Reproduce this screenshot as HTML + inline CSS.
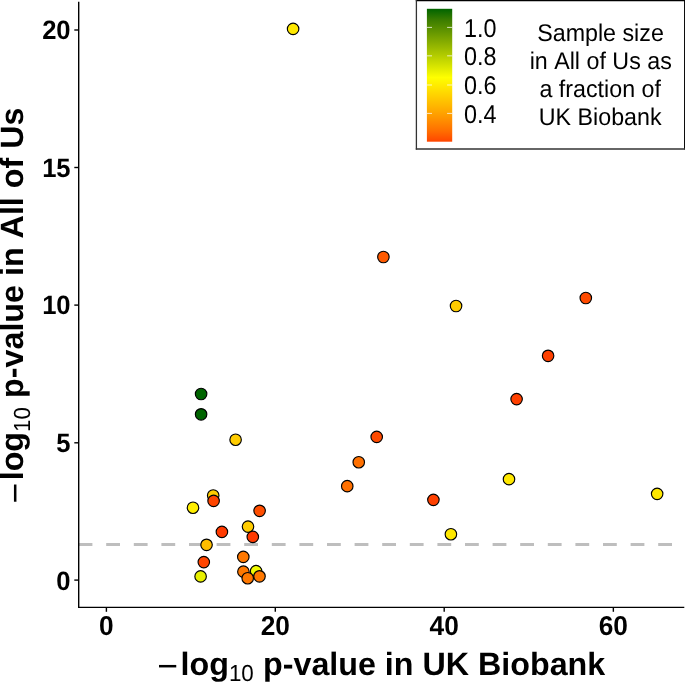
<!DOCTYPE html>
<html>
<head>
<meta charset="utf-8">
<title>p-value comparison</title>
<style>
html,body{margin:0;padding:0;background:#fff;}
svg{display:block;will-change:transform;}
text{font-family:"Liberation Sans",Arial,Helvetica,sans-serif;fill:#000;text-rendering:geometricPrecision;font-kerning:none;}
.b{font-weight:bold;}
</style>
</head>
<body>
<svg width="685" height="682" viewBox="0 0 685 682">
<rect x="0" y="0" width="685" height="682" fill="#ffffff"/>

<!-- significance threshold -->
<line x1="78.6" y1="544.45" x2="685" y2="544.45" stroke="#bebebe" stroke-width="3" stroke-dasharray="13.8 13.8"/>

<!-- points -->
<g stroke="#000" stroke-width="1.15">
<circle cx="293.1" cy="28.9" r="5.75" fill="#ffe800"/>
<circle cx="201.1" cy="394.0" r="5.75" fill="#006400"/>
<circle cx="201.1" cy="414.3" r="5.75" fill="#006400"/>
<circle cx="235.6" cy="439.7" r="5.75" fill="#ffcc00"/>
<circle cx="383.4" cy="257.0" r="5.75" fill="#ff5a00"/>
<circle cx="456.05" cy="306.0" r="5.75" fill="#ffcc00"/>
<circle cx="585.8" cy="298.0" r="5.75" fill="#ff4a00"/>
<circle cx="548.1" cy="355.8" r="5.75" fill="#ff4000"/>
<circle cx="516.6" cy="399.1" r="5.75" fill="#ff4000"/>
<circle cx="376.7" cy="436.9" r="5.75" fill="#ff4a00"/>
<circle cx="358.75" cy="462.2" r="5.75" fill="#ff7000"/>
<circle cx="347.25" cy="486.15" r="5.75" fill="#ff7000"/>
<circle cx="433.4" cy="499.85" r="5.75" fill="#ff4000"/>
<circle cx="450.9" cy="534.2" r="5.75" fill="#ffe800"/>
<circle cx="509.0" cy="479.15" r="5.75" fill="#ffe800"/>
<circle cx="657.15" cy="493.85" r="5.75" fill="#ffe800"/>
<circle cx="193.0" cy="507.7" r="5.75" fill="#ffee00"/>
<circle cx="213.2" cy="495.5" r="5.75" fill="#ffcc00"/>
<circle cx="213.6" cy="500.9" r="5.75" fill="#ff4500"/>
<circle cx="259.6" cy="510.8" r="5.75" fill="#ff4e00"/>
<circle cx="248.0" cy="526.6" r="5.75" fill="#ffcc00"/>
<circle cx="252.8" cy="536.9" r="5.75" fill="#ff3a00"/>
<circle cx="221.9" cy="531.9" r="5.75" fill="#ff3a00"/>
<circle cx="206.55" cy="544.8" r="5.75" fill="#ffbd00"/>
<circle cx="203.8" cy="562.1" r="5.75" fill="#ff4500"/>
<circle cx="200.6" cy="576.4" r="5.75" fill="#e8f000"/>
<circle cx="243.3" cy="556.9" r="5.75" fill="#ff7800"/>
<circle cx="243.4" cy="571.65" r="5.75" fill="#ff7800"/>
<circle cx="256.1" cy="571.1" r="5.75" fill="#f0fa00"/>
<circle cx="247.7" cy="578.2" r="5.75" fill="#ff7800"/>
<circle cx="259.5" cy="576.3" r="5.75" fill="#ff7800"/>
</g>

<!-- axes -->
<g stroke="#000" stroke-width="1.4" fill="none">
<line x1="78.7" y1="1.8" x2="78.7" y2="608.1"/>
<line x1="78" y1="607.4" x2="684.3" y2="607.4"/>
<line x1="74.3" y1="30.0" x2="78.7" y2="30.0"/>
<line x1="74.3" y1="167.5" x2="78.7" y2="167.5"/>
<line x1="74.3" y1="305.1" x2="78.7" y2="305.1"/>
<line x1="74.3" y1="442.8" x2="78.7" y2="442.8"/>
<line x1="74.3" y1="580.1" x2="78.7" y2="580.1"/>
<line x1="106.4" y1="607.4" x2="106.4" y2="611.8"/>
<line x1="275.3" y1="607.4" x2="275.3" y2="611.8"/>
<line x1="444.2" y1="607.4" x2="444.2" y2="611.8"/>
<line x1="613.35" y1="607.4" x2="613.35" y2="611.8"/>
</g>

<!-- y tick labels -->
<text transform="translate(70.6,38.8) scale(1,1.04)" font-size="25.6" text-anchor="end" class="b">20</text>
<text transform="translate(70.6,177.3) scale(1,1.04)" font-size="25.6" text-anchor="end" class="b">15</text>
<text transform="translate(70.6,314.45) scale(1,1.04)" font-size="25.6" text-anchor="end" class="b">10</text>
<text transform="translate(70.6,452.2) scale(1,1.04)" font-size="25.6" text-anchor="end" class="b">5</text>
<text transform="translate(70.6,590.0) scale(1,1.04)" font-size="25.6" text-anchor="end" class="b">0</text>
<!-- x tick labels -->
<text transform="translate(106.4,634.9) scale(1,1.04)" font-size="26.3" text-anchor="middle" class="b">0</text>
<text transform="translate(275.3,634.9) scale(1,1.04)" font-size="26.3" text-anchor="middle" class="b">20</text>
<text transform="translate(444.2,634.9) scale(1,1.04)" font-size="26.3" text-anchor="middle" class="b">40</text>
<text transform="translate(613.3,634.9) scale(1,1.04)" font-size="26.3" text-anchor="middle" class="b">60</text>

<!-- x title -->
<g font-size="32.25">
<text transform="translate(157.3,678.3)" font-size="35.5" font-family="Liberation Serif,serif">−</text>
<text transform="translate(180.6,674.5)" class="b">log</text>
<text transform="translate(228.9,681.0) scale(1,1.04)" font-size="22.4">10</text>
<text transform="translate(263.0,674.5)" class="b">p-value in UK Biobank</text>
</g>

<!-- y title -->
<g transform="translate(23.0,503.6) rotate(-90)" font-size="32.25">
<text transform="translate(0,3.5)" font-size="35.5" font-family="Liberation Serif,serif">−</text>
<text transform="translate(23.3,0)" class="b">log</text>
<text transform="translate(71.6,7.0) scale(1,1.04)" font-size="22.4">10</text>
<text transform="translate(105.7,0)" class="b">p-value in All of Us</text>
</g>

<!-- legend -->
<defs>
<linearGradient id="cb" x1="0" y1="0" x2="0" y2="1">
<stop offset="0.0000" stop-color="#006400"/>
<stop offset="0.0862" stop-color="#3c7d00"/>
<stop offset="0.1723" stop-color="#639600"/>
<stop offset="0.2585" stop-color="#8aaf00"/>
<stop offset="0.3447" stop-color="#b0ca00"/>
<stop offset="0.4308" stop-color="#d7e400"/>
<stop offset="0.5170" stop-color="#ffff00"/>
<stop offset="0.5975" stop-color="#ffe400"/>
<stop offset="0.6780" stop-color="#ffc800"/>
<stop offset="0.7585" stop-color="#ffac00"/>
<stop offset="0.8390" stop-color="#ff8e00"/>
<stop offset="0.9195" stop-color="#ff6e00"/>
<stop offset="1.0000" stop-color="#ff4500"/>
</linearGradient>
</defs>
<rect x="416.4" y="0.5" width="268.3" height="148.5" fill="#ffffff"/>
<line x1="415.8" y1="0.5" x2="685" y2="0.5" stroke="#000" stroke-width="1.3"/>
<line x1="684.7" y1="0" x2="684.7" y2="149.6" stroke="#000" stroke-width="1.3"/>
<line x1="415.8" y1="149.0" x2="685" y2="149.0" stroke="#333" stroke-width="1.3"/>
<line x1="416.4" y1="0" x2="416.4" y2="149.6" stroke="#333" stroke-width="1.3"/>
<rect x="426.9" y="8.8" width="25.3" height="132.9" fill="url(#cb)"/>
<g stroke="#ffffff" stroke-opacity="0.75" stroke-width="1">
<line x1="426.9" y1="27.4" x2="432" y2="27.4"/><line x1="447.1" y1="27.4" x2="452.2" y2="27.4"/>
<line x1="426.9" y1="55.85" x2="432" y2="55.85"/><line x1="447.1" y1="55.85" x2="452.2" y2="55.85"/>
<line x1="426.9" y1="85.0" x2="432" y2="85.0"/><line x1="447.1" y1="85.0" x2="452.2" y2="85.0"/>
<line x1="426.9" y1="113.4" x2="432" y2="113.4"/><line x1="447.1" y1="113.4" x2="452.2" y2="113.4"/>
</g>
<text transform="translate(463.9,36.6) scale(1,1.1)" font-size="23.4">1.0</text>
<text transform="translate(463.9,65.4) scale(1,1.1)" font-size="23.4">0.8</text>
<text transform="translate(463.9,94.3) scale(1,1.1)" font-size="23.4">0.6</text>
<text transform="translate(463.9,122.7) scale(1,1.1)" font-size="23.4">0.4</text>
<text transform="translate(600.5,41.1) scale(1,1.04)" font-size="23.25" text-anchor="middle">Sample size</text>
<text transform="translate(600.7,68.9) scale(1,1.04)" font-size="23.25" text-anchor="middle">in All of Us as</text>
<text transform="translate(600.2,96.9) scale(1,1.04)" font-size="23.25" text-anchor="middle">a fraction of</text>
<text transform="translate(600.2,124.8) scale(1,1.04)" font-size="23.25" text-anchor="middle">UK Biobank</text>
</svg>
</body>
</html>
